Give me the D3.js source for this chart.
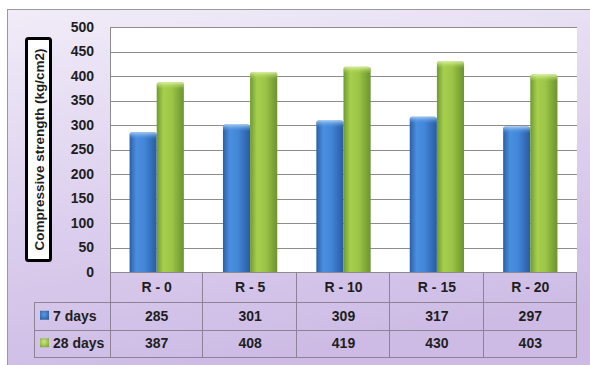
<!DOCTYPE html>
<html>
<head>
<meta charset="utf-8">
<script src="https://cdn.jsdelivr.net/npm/d3@7"></script>
<style>
  html, body { margin: 0; padding: 0; background: #ffffff; }
  svg { display: block; }
  text { font-family: "Liberation Sans", "DejaVu Sans", sans-serif; font-weight: bold; fill: #1e1e1e; }
</style>
</head>
<body>
<div id="chart"></div>
<script>
// Mix designations and compressive strength results (kg/cm2)
const categories = ["R - 0", "R - 5", "R - 10", "R - 15", "R - 20"];
const seriesNames = ["7 days", "28 days"];
const days7 = [285, 301, 309, 317, 297];
const days28 = [387, 408, 419, 430, 403];
const yTicks = [0, 50, 100, 150, 200, 250, 300, 350, 400, 450, 500];
const yTitle = "Compressive strength (kg/cm2)";

const series = [
  { name: seriesNames[0], values: days7, grad: "gBlue", cap: "cBlue", icon: "iBlue" },
  { name: seriesNames[1], values: days28, grad: "gGreen", cap: "cGreen", icon: "iGreen" }
];

const W = 590, H = 365;
const plot = { left: 110, right: 577, top: 27, bottom: 272 };
const table = { left: 34, rowH: [30, 27.5, 27.5] };

const svg = d3.select("#chart").append("svg").attr("width", W).attr("height", H);
const defs = svg.append("defs");

// Background wash of the chart area
const bg = defs.append("linearGradient").attr("id", "bgGrad")
  .attr("x1", 0).attr("y1", 0).attr("x2", 0.25).attr("y2", 1);
bg.append("stop").attr("offset", "0%").attr("stop-color", "#f1ecf8");
bg.append("stop").attr("offset", "55%").attr("stop-color", "#ddd0ee");
bg.append("stop").attr("offset", "100%").attr("stop-color", "#cdbbe5");

// Cylinder-like horizontal shading for bars
function barGradient(id, stops, vertical) {
  const g = defs.append("linearGradient").attr("id", id)
    .attr("x1", 0).attr("y1", 0).attr("x2", vertical ? 0 : 1).attr("y2", vertical ? 1 : 0);
  stops.forEach(([o, c, a]) => g.append("stop").attr("offset", o).attr("stop-color", c)
    .attr("stop-opacity", a === undefined ? 1 : a));
}
function iconGradient(id, inner, outer) {
  const g = defs.append("radialGradient").attr("id", id)
    .attr("cx", 0.45).attr("cy", 0.4).attr("r", 0.7);
  g.append("stop").attr("offset", "0%").attr("stop-color", inner);
  g.append("stop").attr("offset", "100%").attr("stop-color", outer);
}
barGradient("gBlue", [["0%", "#2c5ea6"], ["25%", "#4a8fdf"], ["55%", "#4386d8"], ["100%", "#295ba2"]]);
barGradient("gGreen", [["0%", "#6e9a30"], ["25%", "#a6cf4e"], ["55%", "#9dc647"], ["100%", "#6b942e"]]);
barGradient("cBlue", [["0%", "#a9d0f7", 0.9], ["100%", "#4a8fdf", 0]], true);
barGradient("cGreen", [["0%", "#e0f5a6", 0.9], ["100%", "#a6cf4e", 0]], true);
iconGradient("iBlue", "#5b9be3", "#2b5c9f");
iconGradient("iGreen", "#cde67f", "#82a83a");

svg.append("rect").attr("x", 7.5).attr("y", 9.5).attr("width", W).attr("height", H)
  .attr("fill", "url(#bgGrad)").attr("stroke", "#9a9a9a");

// Scales
const x = d3.scaleBand().domain(categories).range([plot.left, plot.right]).paddingInner(0).paddingOuter(0);
const x1 = d3.scaleBand().domain(seriesNames).range([0, x.bandwidth()]).paddingOuter(0.72).paddingInner(0);
const y = d3.scaleLinear().domain([0, 500]).range([plot.bottom, plot.top]);

// Plot area
svg.append("rect").attr("x", plot.left).attr("y", plot.top)
  .attr("width", plot.right - plot.left).attr("height", plot.bottom - plot.top)
  .attr("fill", "#ffffff");

// Gridlines
const yAxis = d3.axisLeft(y).tickValues(yTicks).tickSize(-(plot.right - plot.left)).tickPadding(16);
const gy = svg.append("g").attr("transform", `translate(${plot.left},0)`).call(yAxis);
gy.select(".domain").remove();
gy.selectAll(".tick line").attr("stroke", "#8c8c8c").attr("stroke-width", 1)
  .attr("shape-rendering", "crispEdges");
gy.selectAll(".tick text").attr("font-size", 14).attr("fill", "#1e1e1e")
  .attr("font-family", "Liberation Sans, sans-serif").attr("font-weight", "bold");

svg.append("line").attr("x1", plot.left + 0.5).attr("x2", plot.left + 0.5)
  .attr("y1", plot.top).attr("y2", plot.bottom).attr("stroke", "#8c8c8c");

// Bars with slightly rounded, lighter tops
function barPath(x0, yt, w, yb) {
  const r = 2.5;
  return `M${x0},${yb} L${x0},${yt + r} Q${x0},${yt} ${x0 + r},${yt} L${x0 + w - r},${yt} Q${x0 + w},${yt} ${x0 + w},${yt + r} L${x0 + w},${yb} Z`;
}
series.forEach(s => {
  const g = svg.append("g");
  const bw = x1.bandwidth();
  g.selectAll("path.bar").data(s.values).enter().append("path")
    .attr("class", "bar")
    .attr("d", (d, i) => barPath(x(categories[i]) + x1(s.name), y(d), bw, y(0)))
    .attr("fill", `url(#${s.grad})`);
  g.selectAll("path.cap").data(s.values).enter().append("path")
    .attr("class", "cap")
    .attr("d", (d, i) => barPath(x(categories[i]) + x1(s.name), y(d), bw, y(d) + 7))
    .attr("fill", `url(#${s.cap})`);
});

// Data table under the axis
const rowY = [plot.bottom, plot.bottom + table.rowH[0], plot.bottom + table.rowH[0] + table.rowH[1]];
const tableBottom = rowY[2] + table.rowH[2];
const lineCol = "#8d8396";
const tg = svg.append("g").attr("shape-rendering", "crispEdges");

// horizontal rules
[rowY[1], rowY[2], tableBottom].forEach(ry => {
  tg.append("line").attr("x1", table.left).attr("x2", plot.right).attr("y1", ry + 0.5).attr("y2", ry + 0.5).attr("stroke", lineCol);
});
tg.append("line").attr("x1", plot.left).attr("x2", plot.right).attr("y1", plot.bottom + 0.5).attr("y2", plot.bottom + 0.5).attr("stroke", "#8c8c8c");
// vertical rules
tg.append("line").attr("x1", table.left + 0.5).attr("x2", table.left + 0.5).attr("y1", rowY[1]).attr("y2", tableBottom).attr("stroke", lineCol);
tg.append("line").attr("x1", plot.left + 0.5).attr("x2", plot.left + 0.5).attr("y1", plot.bottom).attr("y2", tableBottom).attr("stroke", lineCol);
categories.forEach(c => {
  const xr = x(c) + x.bandwidth();
  tg.append("line").attr("x1", Math.round(xr) - 0.5).attr("x2", Math.round(xr) - 0.5)
    .attr("y1", plot.bottom).attr("y2", tableBottom).attr("stroke", lineCol);
});

// Category header
svg.append("g").selectAll("text").data(categories).enter().append("text")
  .attr("x", d => x(d) + x.bandwidth() / 2)
  .attr("y", rowY[0] + table.rowH[0] / 2 + 5)
  .attr("text-anchor", "middle").attr("font-size", 14).text(d => d);

// Series rows
series.forEach((s, si) => {
  const cy = rowY[si + 1] + table.rowH[si + 1] / 2;
  svg.append("rect").attr("x", 40).attr("y", cy - 5).attr("width", 9).attr("height", 9)
    .attr("fill", `url(#${s.icon})`);
  svg.append("text").attr("x", 53).attr("y", cy + 5).attr("font-size", 14).text(s.name);
  svg.append("g").selectAll("text").data(s.values).enter().append("text")
    .attr("x", (d, i) => x(categories[i]) + x.bandwidth() / 2)
    .attr("y", cy + 5)
    .attr("text-anchor", "middle").attr("font-size", 14).text(d => d);
});

// Axis title in a framed box
const tb = { x: 25, y: 37, w: 27, h: 225 };
svg.append("rect").attr("x", tb.x + 1.5).attr("y", tb.y + 1.5).attr("width", tb.w - 3).attr("height", tb.h - 3)
  .attr("fill", "#ffffff").attr("stroke", "#000000").attr("stroke-width", 3).attr("rx", 2);
svg.append("text")
  .attr("transform", `translate(${tb.x + tb.w / 2 + 5},${tb.y + tb.h / 2}) rotate(-90)`)
  .attr("text-anchor", "middle").attr("font-size", 13.5).attr("fill", "#000")
  .text(yTitle);
</script>
</body>
</html>
